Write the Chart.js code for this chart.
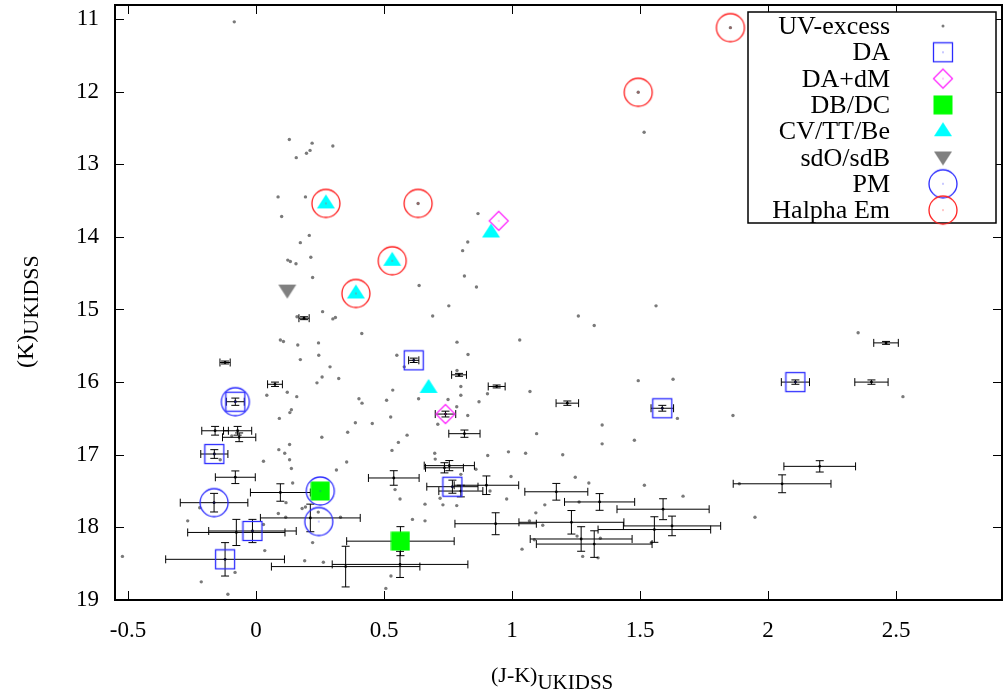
<!DOCTYPE html>
<html>
<head>
<meta charset="utf-8">
<script src="https://cdn.jsdelivr.net/npm/chart.js@4.4.1/dist/chart.umd.min.js"></script>
<style>
  body { margin: 0; background: #fff; }
  canvas { display: block; }
</style>
</head>
<body>
<canvas id="cmd" width="1003" height="690"></canvas>
<script>
// Datos: (J-K) en x, K en y
const uvX = [-0.085, 0.13, 0.219, 0.211, 0.197, 0.30, 0.157, 0.086, 0.193, 0.10, 0.208, 0.173, 0.124, 0.134, 0.156, 0.214, 0.221, 0.637, 0.26, 0.69,
  0.753, 0.30, 0.31, 0.16, 0.867, 0.827, 0.807, 0.814, 0.861, 1.259, 1.5625, 1.516, 0.413, 0.095, 0.107, 0.163, 0.244, 0.245, 0.173, 0.289,
  0.55, 0.579, 0.258, 0.323, 0.238, 0.534, 0.042, 0.122, 0.159, 0.402, 0.414, 0.51, 0.635, 0.138, 0.132, 0.091, 0.526, 0.388, 0.454, -0.095,
  0.358, 0.257, 0.59, 0.556, 0.089, 0.131, 0.112, 0.531, -0.14, 0.131, 0.029, 0.354, 0.138, 0.698, 0.70, 0.314, 0.143, 0.117, -0.22, 0.18,
  0.193, 0.543, 0.5625, 0.116, 0.33, 0.66, 0.611, 0.66, -0.267, 0.221, 0.034, -0.522, -0.082, 0.19, 0.263, -0.214, -0.11, 0.527, 0.507, 1.321,
  0.785, 1.03, 0.828, 0.785, 0.80, 0.80, 0.904, 1.07, 0.871, 0.75, 0.784, 1.493, 1.629, 1.646, 1.863, 0.827, 0.71, 1.096, 1.352, 1.352,
  1.478, 0.905, 0.986, 1.053, 1.198, 0.80, 0.859, 0.996, 1.247, 1.30, 1.517, 1.668, 0.914, 1.262, 1.128, 0.979, 0.73, 0.784, 0.719, 1.093,
  1.068, 1.12, 1.087, 1.254, 1.345, 1.544, 1.039, 1.276, 1.336, 1.888, 2.352, 2.527, 1.949, 0.633, 1.853, 1.493, 0.087, 0.029, 0.243];
const uvY = [11.04, 12.66, 12.71, 12.81, 12.85, 12.75, 12.91, 13.45, 13.45, 13.72, 13.98, 14.08, 14.32, 14.34, 14.37, 14.28, 14.56, 14.67, 15.03, 15.09,
  14.95, 15.13, 15.11, 15.10, 13.68, 14.07, 14.19, 14.54, 14.69, 15.09, 14.95, 12.56, 15.33, 15.42, 15.44, 15.49, 15.46, 15.63, 15.69, 15.79,
  15.63, 15.79, 15.93, 15.95, 16.01, 16.11, 16.18, 16.14, 16.20, 16.23, 16.29, 16.25, 16.23, 16.38, 16.42, 16.50, 16.48, 16.56, 16.57, 16.74,
  16.69, 16.76, 16.73, 16.83, 16.93, 16.86, 16.98, 16.94, 17.07, 17.07, 17.09, 17.10, 17.19, 16.98, 17.06, 17.21, 17.39, 17.66, 17.73, 17.74,
  17.72, 17.48, 17.61, 17.86, 17.86, 17.68, 17.89, 17.91, 17.91, 18.21, 18.32, 18.40, 18.62, 18.46, 18.48, 18.75, 18.92, 18.67, 18.84, 15.22,
  15.45, 15.42, 15.62, 15.84, 16.06, 16.18, 16.16, 16.13, 16.27, 16.24, 16.34, 15.98, 15.96, 16.50, 16.46, 16.46, 16.58, 16.71, 16.59, 16.85,
  16.80, 17.01, 16.96, 16.98, 17.00, 17.27, 17.20, 17.30, 17.31, 17.39, 17.42, 17.57, 17.50, 17.65, 17.69, 17.61, 17.69, 17.70, 17.60, 17.80,
  17.91, 17.97, 18.17, 18.12, 18.15, 18.21, 18.30, 18.40, 18.42, 17.40, 15.32, 16.20, 17.86, 13.54, 11.12, 12.01, 17.81, 17.96, 17.79];

// Puntos con barras de error
const errX = [0.1875, -0.121, 0.074, 0.616, -0.081, -0.16, -0.072, -0.066, -0.163, -0.081, 0.538, 0.095, -0.164, 0.212, -0.077, -0.014, -0.121, 0.564, 0.35, 0.5625,
  0.793, 0.94, 1.216, 1.587, 0.74, 0.814, 0.755, 0.736, 0.767, 0.80, 0.90, 1.173, 1.342, 1.59, 0.936, 1.232, 1.556, 1.625, 1.27, 1.321,
  2.461, 2.107, 2.404, 2.202, 2.055];
const errY = [15.12, 15.73, 16.03, 15.70, 16.27, 16.67, 16.67, 16.76, 16.99, 17.31, 17.32, 17.52, 17.66, 17.87, 18.07, 18.05, 18.44, 18.19, 18.54, 18.51,
  15.90, 16.06, 16.29, 16.36, 16.44, 16.71, 17.15, 17.18, 17.44, 17.50, 17.42, 17.51, 17.65, 17.75, 17.95, 17.93, 18.03, 17.98, 18.16, 18.23,
  15.46, 16.00, 16.00, 17.16, 17.40];
const errDx = [0.02, 0.02, 0.029, 0.02, 0.035, 0.052, 0.055, 0.065, 0.053, 0.078, 0.099, 0.117, 0.132, 0.195, 0.19, 0.171, 0.232, 0.21, 0.29, 0.265,
  0.029, 0.033, 0.044, 0.044, 0.04, 0.061, 0.098, 0.074, 0.10, 0.086, 0.126, 0.123, 0.137, 0.18, 0.159, 0.205, 0.22, 0.19, 0.199, 0.226,
  0.048, 0.055, 0.065, 0.14, 0.191];
const errDy = [0.02, 0.02, 0.03, 0.03, 0.05, 0.06, 0.06, 0.06, 0.06, 0.087, 0.10, 0.12, 0.128, 0.19, 0.18, 0.16, 0.23, 0.2, 0.28, 0.18,
  0.02, 0.02, 0.03, 0.04, 0.04, 0.05, 0.07, 0.07, 0.09, 0.08, 0.128, 0.115, 0.115, 0.144, 0.151, 0.162, 0.176, 0.135, 0.169, 0.183,
  0.02, 0.03, 0.03, 0.078, 0.123];

const daX = [0.616, -0.081, -0.163, 0.767, -0.014, -0.121, 1.587, 2.107];
const daY = [15.70, 16.27, 16.99, 17.44, 18.05, 18.44, 16.36, 16.00];
const dadmX = [0.948, 0.74];
const dadmY = [13.78, 16.44];
const dbX = [0.251, 0.564];
const dbY = [17.50, 18.19];
const cvX = [0.273, 0.532, 0.39, 0.918, 0.674];
const cvY = [13.54, 14.33, 14.78, 13.94, 16.08];
const sdX = [0.122];
const sdY = [14.74];
const pmX = [-0.081, -0.164, 0.251, 0.245];
const pmY = [16.27, 17.66, 17.50, 17.92];
const haX = [1.853, 1.493, 0.273, 0.633, 0.532, 0.39];
const haY = [11.12, 12.01, 13.54, 13.54, 14.33, 14.78];

const xTicks = [-0.5, 0, 0.5, 1, 1.5, 2, 2.5];
const yTicks = [11, 12, 13, 14, 15, 16, 17, 18, 19];

const serif = '"Liberation Serif", "DejaVu Serif", serif';

const puntos = (xs, ys) => xs.map((x, i) => ({ x: x, y: ys[i] }));

// Marcadores al estilo gnuplot
function marcador(w, h, draw) {
  const c = document.createElement('canvas');
  c.width = w;
  c.height = h;
  draw(c.getContext('2d'), w / 2, h / 2);
  return c;
}
function punto(g, cx, cy, color) {
  g.fillStyle = color;
  g.fillRect(cx - 0.5, cy - 0.5, 1, 1);
}
const mDA = marcador(22, 22, (g, cx, cy) => {
  g.strokeStyle = '#2b2bff';
  g.lineWidth = 1.3;
  g.strokeRect(cx - 9.5, cy - 9.5, 19, 19);
  punto(g, cx, cy, '#2b2bff');
});
const mDAdM = marcador(24, 24, (g, cx, cy) => {
  g.strokeStyle = '#ff2bff';
  g.lineWidth = 1.3;
  g.beginPath();
  g.moveTo(cx, cy - 9.5);
  g.lineTo(cx + 9.5, cy);
  g.lineTo(cx, cy + 9.5);
  g.lineTo(cx - 9.5, cy);
  g.closePath();
  g.stroke();
  punto(g, cx, cy, '#ff2bff');
});
const mDB = marcador(20, 20, (g, cx, cy) => {
  g.fillStyle = '#00ff00';
  g.fillRect(cx - 9.5, cy - 9.5, 19, 19);
});
const mCV = marcador(20, 20, (g, cx, cy) => {
  g.fillStyle = '#00ffff';
  g.beginPath();
  g.moveTo(cx, cy - 9);
  g.lineTo(cx + 9, cy + 5);
  g.lineTo(cx - 9, cy + 5);
  g.closePath();
  g.fill();
});
const mSD = marcador(20, 20, (g, cx, cy) => {
  g.fillStyle = '#808080';
  g.beginPath();
  g.moveTo(cx - 9, cy - 6);
  g.lineTo(cx + 9, cy - 6);
  g.lineTo(cx, cy + 8);
  g.closePath();
  g.fill();
});
const circulo = (color) => marcador(32, 32, (g, cx, cy) => {
  g.strokeStyle = color;
  g.lineWidth = 1.3;
  g.beginPath();
  g.arc(cx, cy, 14, 0, Math.PI * 2);
  g.stroke();
  punto(g, cx, cy, color);
});
const mPM = circulo('#2b2bff');
const mHA = circulo('#ff2020');

// Barras de error, marco, ticks hacia dentro, leyenda y titulos
const extras = {
  id: 'extras',
  afterLayout(chart) {
    // el area de datos llega hasta el borde derecho del lienzo
    const sx = chart.scales.x;
    chart.chartArea.right = 1002;
    chart.chartArea.width = chart.chartArea.right - chart.chartArea.left;
    sx.right = 1002;
    sx.width = sx.right - sx.left;
    sx.configure();
  },
  beforeDatasetDraw(chart, args) {
    if (args.index !== 1) return;
    const sx = chart.scales.x, sy = chart.scales.y, g = chart.ctx;
    g.save();
    g.strokeStyle = '#000';
    g.lineWidth = 1;
    g.beginPath();
    errX.forEach((x, i) => {
      const px = sx.getPixelForValue(x), py = sy.getPixelForValue(errY[i]);
      const x0 = sx.getPixelForValue(x - errDx[i]), x1 = sx.getPixelForValue(x + errDx[i]);
      const y0 = sy.getPixelForValue(errY[i] - errDy[i]), y1 = sy.getPixelForValue(errY[i] + errDy[i]);
      g.moveTo(x0, py); g.lineTo(x1, py);
      g.moveTo(x0, py - 4); g.lineTo(x0, py + 4);
      g.moveTo(x1, py - 4); g.lineTo(x1, py + 4);
      g.moveTo(px, y0); g.lineTo(px, y1);
      g.moveTo(px - 4, y0); g.lineTo(px + 4, y0);
      g.moveTo(px - 4, y1); g.lineTo(px + 4, y1);
    });
    g.stroke();
    g.restore();
  },
  afterDraw(chart) {
    const g = chart.ctx, a = chart.chartArea, sx = chart.scales.x, sy = chart.scales.y;
    g.save();
    g.strokeStyle = '#000';
    g.lineWidth = 1;
    g.beginPath();
    xTicks.forEach((t) => {
      const p = Math.round(sx.getPixelForValue(t)) + 0.5;
      g.moveTo(p, a.bottom); g.lineTo(p, a.bottom - 9);
      g.moveTo(p, a.top); g.lineTo(p, a.top + 9);
    });
    yTicks.forEach((t) => {
      const p = Math.round(sy.getPixelForValue(t)) + 0.5;
      g.moveTo(a.left, p); g.lineTo(a.left + 9, p);
      g.moveTo(a.right, p); g.lineTo(a.right - 9, p);
    });
    g.stroke();
    g.lineWidth = 2;
    g.strokeRect(a.left, a.top, a.right - a.left, a.bottom - a.top);

    // leyenda (sin la serie de barras de error)
    const lx = 748, ly = 12, lw = 248, lh = 211;
    g.fillStyle = '#fff';
    g.fillRect(lx, ly, lw, lh);
    g.lineWidth = 1.5;
    g.strokeRect(lx, ly, lw, lh);
    g.font = '26px ' + serif;
    g.textAlign = 'right';
    g.textBaseline = 'alphabetic';
    chart.data.datasets.filter((ds, i) => i !== 1).forEach((ds, i) => {
      const cy = 26 + i * 26.3;
      g.fillStyle = '#000';
      g.fillText(ds.label, 890, cy + 8);
      if (ds.pointStyle === 'circle') {
        g.fillStyle = ds.backgroundColor;
        g.beginPath();
        g.arc(943, cy, 1.5, 0, Math.PI * 2);
        g.fill();
      } else {
        const im = ds.pointStyle;
        g.drawImage(im, 943 - im.width / 2, cy - im.height / 2);
      }
    });

    // titulos de los ejes con subindice
    g.fillStyle = '#000';
    g.textAlign = 'left';
    g.font = '22px ' + serif;
    g.fillText('(J-K)', 491, 682);
    let w = g.measureText('(J-K)').width;
    g.font = '21px ' + serif;
    g.fillText('UKIDSS', 491 + w, 689);

    g.translate(33, 368);
    g.rotate(-Math.PI / 2);
    g.font = '24px ' + serif;
    g.fillText('(K)', 0, 0);
    w = g.measureText('(K)').width;
    g.font = '22px ' + serif;
    g.fillText('UKIDSS', w, 5);
    g.restore();
  }
};

const sinRelleno = (s) => {
  s.paddingTop = 0;
  s.paddingBottom = 0;
  s.paddingLeft = 0;
  s.paddingRight = 0;
};

const cmdCtx = document.getElementById('cmd').getContext('2d');
const cmdChart = new Chart(cmdCtx, {
  type: 'scatter',
  data: {
    datasets: [
      { label: 'UV-excess', data: puntos(uvX, uvY), pointStyle: 'circle', pointRadius: 1.7, pointBorderWidth: 0, backgroundColor: '#7a7a7a', order: 9 },
      { label: 'errores', data: puntos(errX, errY), pointStyle: 'circle', pointRadius: 1.4, pointBorderWidth: 0, backgroundColor: '#000', order: 8 },
      { label: 'DA', data: puntos(daX, daY), pointStyle: mDA, order: 7 },
      { label: 'DA+dM', data: puntos(dadmX, dadmY), pointStyle: mDAdM, order: 6 },
      { label: 'DB/DC', data: puntos(dbX, dbY), pointStyle: mDB, order: 5 },
      { label: 'CV/TT/Be', data: puntos(cvX, cvY), pointStyle: mCV, order: 4 },
      { label: 'sdO/sdB', data: puntos(sdX, sdY), pointStyle: mSD, order: 3 },
      { label: 'PM', data: puntos(pmX, pmY), pointStyle: mPM, order: 2 },
      { label: 'Halpha Em', data: puntos(haX, haY), pointStyle: mHA, order: 1 }
    ]
  },
  options: {
    responsive: false,
    animation: false,
    layout: { padding: { top: 3, right: 1, left: 0, bottom: 0 } },
    plugins: { legend: { display: false }, tooltip: { enabled: false } },
    scales: {
      x: {
        type: 'linear',
        min: -0.551,
        max: 2.914,
        afterFit: (s) => { s.height = 90; sinRelleno(s); },
        afterBuildTicks: (s) => { s.ticks = xTicks.map((v) => ({ value: v })); },
        grid: { display: false, drawTicks: false },
        border: { display: false },
        ticks: { padding: 17, color: '#000', font: { family: serif, size: 23 }, callback: (v) => String(v), maxRotation: 0 }
      },
      y: {
        type: 'linear',
        reverse: true,
        min: 10.808,
        max: 19,
        afterFit: (s) => { s.width = 115; sinRelleno(s); },
        afterBuildTicks: (s) => { s.ticks = yTicks.map((v) => ({ value: v })); },
        grid: { display: false, drawTicks: false },
        border: { display: false },
        ticks: { padding: 16, color: '#000', font: { family: serif, size: 23 } }
      }
    }
  },
  plugins: [extras]
});
</script>
</body>
</html>
